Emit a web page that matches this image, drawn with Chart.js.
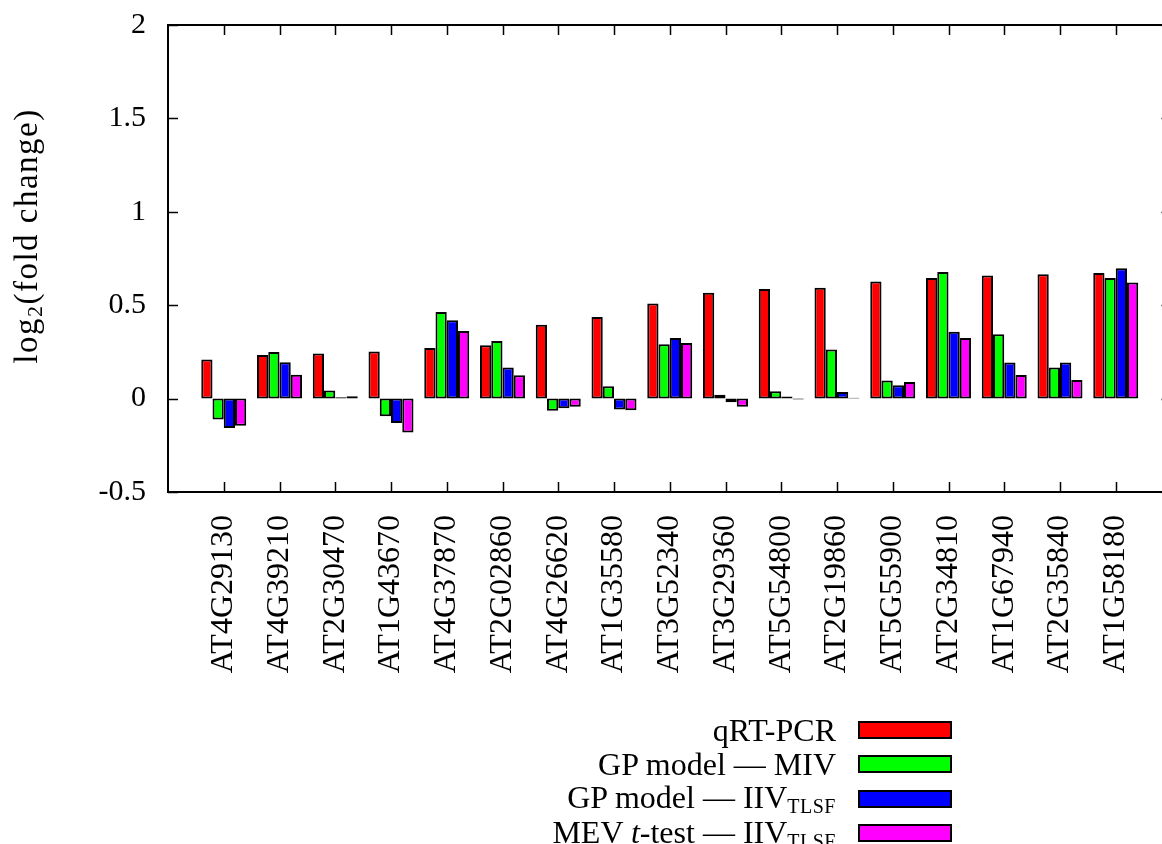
<!DOCTYPE html>
<html>
<head>
<meta charset="utf-8">
<script src="https://cdn.jsdelivr.net/npm/chart.js@4"></script>
<style>
  html, body { margin: 0; padding: 0; overflow: hidden; background: #fff; }
  #wrap { position: relative; width: 1162px; height: 844px; overflow: hidden; }
  #legend { position: absolute; right: 210px; top: 713px; font-family: "Liberation Serif", serif; font-size: 32px; color: #000; }
  .row { display: flex; justify-content: flex-end; align-items: center; height: 34.3px; }
  .row sub { font-size: 20px; vertical-align: -5px; letter-spacing: 0.5px; }
  .sw { width: 94px; height: 18px; margin-left: 22px; box-sizing: border-box; border: 2px solid #000; }
</style>
</head>
<body>
<div id="wrap">
  <canvas id="chart" width="1180" height="844"></canvas>
  <div id="legend"></div>
</div>
<script>
// data
const genes = ['AT4G29130', 'AT4G39210', 'AT2G30470', 'AT1G43670', 'AT4G37870', 'AT2G02860',
  'AT4G26620', 'AT1G35580', 'AT3G52340', 'AT3G29360', 'AT5G54800', 'AT2G19860',
  'AT5G55900', 'AT2G34810', 'AT1G67940', 'AT2G35840', 'AT1G58180'];
const qrtPcr = [0.209, 0.234, 0.241, 0.252, 0.271, 0.285, 0.395, 0.437, 0.509, 0.566, 0.587, 0.594, 0.627, 0.646, 0.659, 0.666, 0.673];
const gpMiv = [-0.112, 0.25, 0.043, -0.095, 0.464, 0.309, -0.065, 0.066, 0.291, 0.02, 0.039, 0.263, 0.097, 0.678, 0.345, 0.167, 0.646];
const gpIiv = [-0.157, 0.194, 0.007, -0.13, 0.419, 0.166, -0.052, -0.059, 0.325, -0.02, 0.011, 0.035, 0.071, 0.358, 0.193, 0.193, 0.698];
const mevIiv = [-0.145, 0.128, 0.012, -0.182, 0.362, 0.125, -0.043, -0.063, 0.298, -0.044, -0.005, 0.004, 0.089, 0.324, 0.126, 0.1, 0.621];
const yTicks = [-0.5, 0, 0.5, 1, 1.5, 2];

const seriesLabels = ['qRT-PCR', 'GP model — MIV', 'GP model — IIV<sub>TLSF</sub>', 'MEV <i>t</i>-test — IIV<sub>TLSF</sub>'];
const seriesColors = ['#ff0000', '#00ff00', '#0000ff', '#ff00ff'];
const seriesValues = [qrtPcr, gpMiv, gpIiv, mevIiv];

const FONT = '"Liberation Serif", "Times New Roman", serif';

// gnuplot-like frame with inward ticks on all four sides
const framePlugin = {
    id: 'frame',
    afterDraw(chart) {
        const ctx = chart.ctx;
        const a = chart.chartArea;
        const xs = chart.scales.x, ys = chart.scales.y;
        ctx.save();
        ctx.strokeStyle = '#000';
        ctx.lineWidth = 1.5;
        ctx.beginPath();
        xs.ticks.forEach((t, i) => {
            const px = Math.round(xs.getPixelForTick(i)) + 0.5;
            ctx.moveTo(px, a.bottom); ctx.lineTo(px, a.bottom - 10);
            ctx.moveTo(px, a.top); ctx.lineTo(px, a.top + 10);
        });
        ys.ticks.forEach((t, i) => {
            const py = Math.round(ys.getPixelForTick(i)) + 0.5;
            ctx.moveTo(a.left, py); ctx.lineTo(a.left + 10, py);
            ctx.moveTo(a.right, py); ctx.lineTo(a.right - 10, py);
        });
        ctx.stroke();
        ctx.lineWidth = 2;
        ctx.strokeRect(a.left, a.top, a.right - a.left, a.bottom - a.top);

        // y axis title with subscript
        ctx.translate(28, 236);
        ctx.rotate(-Math.PI / 2);
        ctx.fillStyle = '#000';
        ctx.textBaseline = 'middle';
        ctx.letterSpacing = '1.5px';
        const big = '33px ' + FONT, small = '22px ' + FONT;
        ctx.font = big;
        const w1 = ctx.measureText('log').width;
        const w3 = ctx.measureText('(fold change)').width;
        ctx.font = small;
        const w2 = ctx.measureText('2').width;
        let x = -(w1 + w2 + w3) / 2;
        ctx.font = big;
        ctx.fillText('log', x, 0);
        ctx.font = small;
        ctx.fillText('2', x + w1, 8);
        ctx.font = big;
        ctx.fillText('(fold change)', x + w1 + w2, 0);
        ctx.restore();
    }
};

const datasets = seriesValues.map((vals, k) => ({
    label: seriesLabels[k].replace(/<[^>]+>/g, ''),
    data: vals.map((v, i) => ({ x: i, y: v })),
    backgroundColor: seriesColors[k],
    borderColor: '#000',
    borderWidth: 2,
    borderSkipped: false,
    categoryPercentage: 0.807,
    barPercentage: 1.0
}));

new Chart(document.getElementById('chart').getContext('2d'), {
    type: 'bar',
    data: { datasets: datasets },
    options: {
        responsive: false,
        animation: false,
        devicePixelRatio: 1,
        layout: { padding: { top: 25, right: 8.5, left: 0, bottom: 0 } },
        plugins: { legend: { display: false }, tooltip: { enabled: false } },
        scales: {
            x: {
                type: 'linear',
                offset: false,
                min: -1,
                max: genes.length,
                grid: { display: false, drawTicks: false, offset: false },
                border: { display: false },
                afterBuildTicks: s => { s.ticks = genes.map((g, i) => ({ value: i })); },
                afterFit: s => { s.height = 352; s.paddingLeft = 0; s.paddingRight = 0; },
                ticks: {
                    autoSkip: false,
                    maxRotation: 90,
                    minRotation: 90,
                    padding: 23,
                    color: '#000',
                    font: { family: FONT, size: 32 },
                    callback: v => genes[v] ?? ''
                }
            },
            y: {
                min: -0.5,
                max: 2,
                grid: { display: false, drawTicks: false },
                border: { display: false },
                afterBuildTicks: s => { s.ticks = yTicks.map(v => ({ value: v })); },
                afterFit: s => { s.width = 168; s.paddingTop = 0; s.paddingBottom = 0; },
                ticks: {
                    padding: 22,
                    color: '#000',
                    font: { family: FONT, size: 30 },
                    callback: v => String(v)
                }
            }
        }
    },
    plugins: [framePlugin]
});

// legend with subscripts, built from the same label list
const legend = document.getElementById('legend');
seriesLabels.forEach((lab, k) => {
    const row = document.createElement('div');
    row.className = 'row';
    row.innerHTML = '<span>' + lab + '</span><div class="sw" style="background:' + seriesColors[k] + '"></div>';
    legend.appendChild(row);
});
</script>
</body>
</html>
